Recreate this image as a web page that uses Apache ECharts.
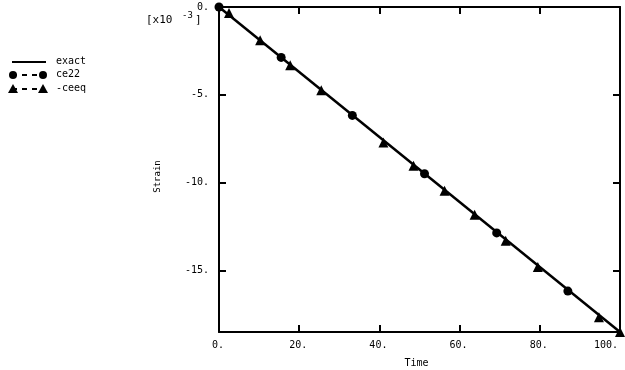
<!DOCTYPE html>
<html><head><meta charset="utf-8">
<script src="https://cdn.jsdelivr.net/npm/echarts@6/dist/echarts.min.js"></script>
<style>html,body{margin:0;padding:0;background:#fff;overflow:hidden}#c{width:625px;height:370px}</style>
</head><body><div id="c"></div>
<script>
var exactTime = [0, 100];
var exactStrain = [0, -18.5];
var ce22Time = [0, 15.5, 33.25, 51.25, 69.25, 87];
var ce22Strain = [0, -2.87, -6.17, -9.49, -12.86, -16.17];
var ceeqTime = [2.5, 10.25, 17.75, 25.5, 41, 48.5, 56.25, 63.75, 71.5, 79.5, 94.75, 100];
var ceeqStrain = [-0.34, -1.89, -3.31, -4.74, -7.71, -9.03, -10.46, -11.83, -13.31, -14.8, -17.66, -18.5];
var xTicks = [0, 20, 40, 60, 80, 100];
var yTicks = [0, -5, -10, -15];

function pairs(a, b) { return a.map(function (v, i) { return [v, b[i]]; }); }
var FONT = 'DejaVu Sans Mono';
var chart = echarts.init(document.getElementById('c'), null, {renderer: 'canvas'});
var axLine = {show: true, onZero: false, lineStyle: {color: '#000', width: 2}};
var xTick = {show: true, inside: true, length: 7, lineStyle: {color: '#000', width: 2}};
var yTick = {show: true, inside: true, length: 7, lineStyle: {color: '#000', width: 2}, customValues: yTicks};
chart.setOption({
  animation: false,
  backgroundColor: '#fff',
  grid: {left: 219, top: 7, right: 5, bottom: 38, containLabel: false, outerBoundsMode: 'none'},
  xAxis: [
    {type: 'value', min: 0, max: 100, interval: 20, position: 'bottom',
     axisLine: axLine, axisTick: xTick, splitLine: {show: false},
     axisLabel: {color: '#000', fontFamily: FONT, fontSize: 10, margin: 8, customValues: xTicks,
       alignMaxLabel: 'right', padding: [0, 2, 0, 0],
       formatter: function (v) { return v + '.'; }},
     name: 'Time', nameLocation: 'middle', nameGap: 26,
     nameTextStyle: {color: '#000', fontFamily: FONT, fontSize: 10, padding: [0, 6, 0, 0]}},
    {type: 'value', min: 0, max: 100, interval: 20, position: 'top',
     axisLine: axLine, axisTick: xTick, splitLine: {show: false}, axisLabel: {show: false}}
  ],
  yAxis: [
    {type: 'value', min: -18.5, max: 0, interval: 5, position: 'left',
     axisLine: axLine, axisTick: yTick, splitLine: {show: false},
     axisLabel: {color: '#000', fontFamily: FONT, fontSize: 10, margin: 10,
       customValues: yTicks,
       formatter: function (v) { return v + '.'; }},
     name: 'Strain', nameLocation: 'middle', nameGap: 57, nameRotate: 90,
     nameTextStyle: {color: '#000', fontFamily: FONT, fontSize: 9, padding: [0, 0, 0, -14]}},
    {type: 'value', min: -18.5, max: 0, interval: 5, position: 'right',
     axisLine: axLine, axisTick: yTick, splitLine: {show: false}, axisLabel: {show: false}}
  ],
  series: [
    {name: 'exact', type: 'line', data: pairs(exactTime, exactStrain), showSymbol: false,
     lineStyle: {color: '#000', width: 2.5}, itemStyle: {color: '#000'}, z: 2},
    {name: 'ce22', type: 'line', data: pairs(ce22Time, ce22Strain), symbol: 'circle', symbolSize: 9,
     lineStyle: {color: '#000', width: 2, type: 'dashed', opacity: 0}, itemStyle: {color: '#000'}, z: 3},
    {name: '-ceeq', type: 'line', data: pairs(ceeqTime, ceeqStrain), symbol: 'triangle', symbolSize: 10,
     lineStyle: {color: '#000', width: 2, type: 'dashed', opacity: 0}, itemStyle: {color: '#000'}, z: 4}
  ],
  graphic: [
    {type: 'text', left: 146, top: 15, style: {text: '[x10', fill: '#000', font: '11px "DejaVu Sans Mono"'}},
    {type: 'text', left: 182, top: 11, style: {text: '-3', fill: '#000', font: '9px "DejaVu Sans Mono"'}},
    {type: 'text', left: 195, top: 15, style: {text: ']', fill: '#000', font: '11px "DejaVu Sans Mono"'}},
    {type: 'line', shape: {x1: 12, y1: 62, x2: 46, y2: 62}, style: {stroke: '#000', lineWidth: 2}},
    {type: 'text', left: 56, top: 56, style: {text: 'exact', fill: '#000', font: '10px "DejaVu Sans Mono"'}},
    {type: 'line', shape: {x1: 12, y1: 75, x2: 44, y2: 75}, style: {stroke: '#000', lineWidth: 2, lineDash: [5, 5]}},
    {type: 'circle', shape: {cx: 13, cy: 75, r: 4}, style: {fill: '#000'}},
    {type: 'circle', shape: {cx: 43, cy: 75, r: 4}, style: {fill: '#000'}},
    {type: 'text', left: 56, top: 69, style: {text: 'ce22', fill: '#000', font: '10px "DejaVu Sans Mono"'}},
    {type: 'line', shape: {x1: 12, y1: 89, x2: 44, y2: 89}, style: {stroke: '#000', lineWidth: 2, lineDash: [5, 5]}},
    {type: 'polygon', shape: {points: [[13, 84], [8, 93], [18, 93]]}, style: {fill: '#000'}},
    {type: 'polygon', shape: {points: [[43, 84], [38, 93], [48, 93]]}, style: {fill: '#000'}},
    {type: 'text', left: 56, top: 83, style: {text: '-ceeq', fill: '#000', font: '10px "DejaVu Sans Mono"'}}
  ]
});
</script></body></html>
